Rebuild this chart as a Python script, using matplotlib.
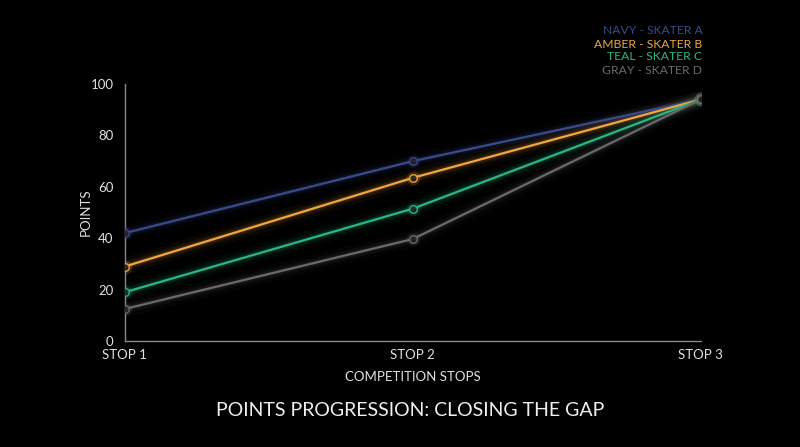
import matplotlib
matplotlib.use("Agg")
import matplotlib.pyplot as plt

stops = ["STOP 1", "STOP 2", "STOP 3"]
series_names = ["NAVY - SKATER A", "AMBER - SKATER B", "TEAL - SKATER C", "GRAY - SKATER D"]
skater_a = [42, 70, 94]
skater_b = [29, 63.5, 94]
skater_c = [19, 51.5, 94]
skater_d = [12.5, 39.7, 94]
colors = ["#3a4a8c", "#f2a541", "#2bb685", "#6a6a6a"]
yticks = [0, 20, 40, 60, 80, 100]

plt.rcParams['font.family'] = ['Lato', 'DejaVu Sans']

fig = plt.figure(figsize=(8, 4.47), dpi=100, facecolor="black")
ax = fig.add_axes([0.156, 0.237, 0.720, 0.575])
ax.set_facecolor("black")

x = list(range(len(stops)))
all_series = [skater_a, skater_b, skater_c, skater_d]
for vals, col in zip(all_series, colors):
    # glow
    for lw, a in [(12, 0.04), (7, 0.07), (4, 0.12)]:
        ax.plot(x, vals, color=col, lw=lw, alpha=a, solid_capstyle="round", zorder=2)
    ax.plot(x, vals, color=col, lw=1.6, zorder=3)
    ax.plot(x, vals, linestyle="none", marker="o", ms=9, mfc=col, mec=col,
            alpha=0.12, zorder=3)
    ax.plot(x, vals, linestyle="none", marker="o", ms=5.5, mfc="#222222", mec=col,
            mew=1.1, alpha=0.9, zorder=4)

ax.set_xlim(0, len(stops) - 1)
ax.set_ylim(0, 100)
ax.set_yticks(yticks)
ax.set_xticks(x)
ax.set_xticklabels(stops)
ax.tick_params(axis="both", length=0, colors="#e0e0e0", labelsize=9.5)
ax.tick_params(axis="y", pad=8)
ax.tick_params(axis="x", pad=6)
for s in ["top", "right"]:
    ax.spines[s].set_visible(False)
for s in ["left", "bottom"]:
    ax.spines[s].set_color("#8a8a8a")
    ax.spines[s].set_linewidth(1.0)

ax.set_xlabel("COMPETITION STOPS", color="#e0e0e0", fontsize=9.5, labelpad=7)
ax.set_ylabel("POINTS", color="#e0e0e0", fontsize=9.5)
ax.yaxis.set_label_coords(-0.058, 0.5)

fig.text(0.513, 1 - 411 / 447, "POINTS PROGRESSION: CLOSING THE GAP", color="#f0f0f0",
         fontsize=14, ha="center", va="center")

for i, (name, col) in enumerate(zip(series_names, colors)):
    fig.text(0.878, 1 - (31 + 13 * i) / 447, name, color=col, fontsize=8.7,
             ha="right", va="center")

fig.savefig("out.png", dpi=100, facecolor="black")
